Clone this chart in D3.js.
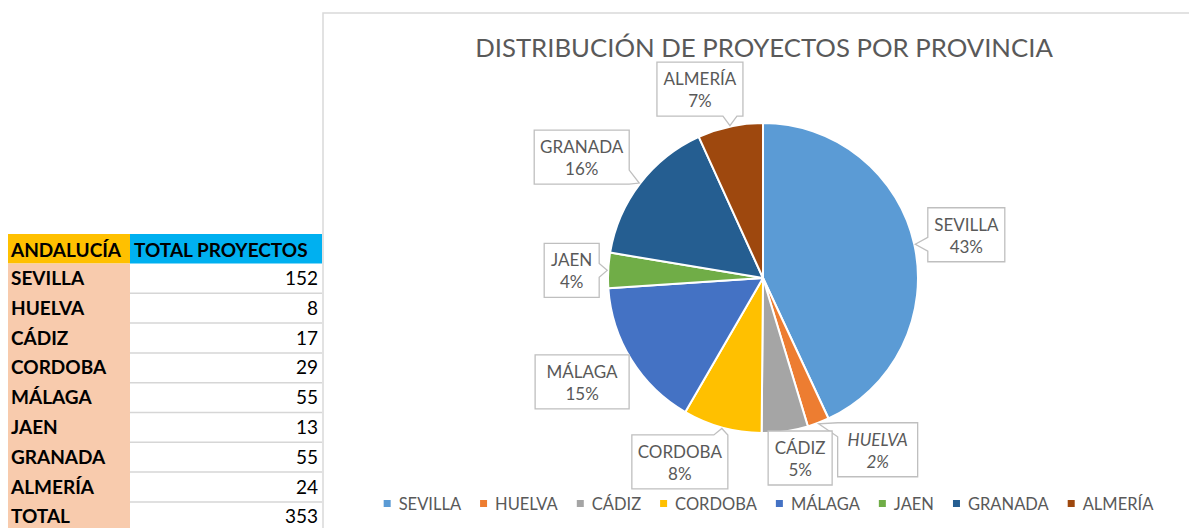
<!DOCTYPE html>
<html><head><meta charset="utf-8">
<script src="https://cdn.jsdelivr.net/npm/d3@7"></script>
<style>body{margin:0;background:#fff;} svg{display:block;}</style>
</head><body>
<svg id="c" width="1189" height="528"></svg>
<script>
// ---- data ----
const provinces = ["SEVILLA","HUELVA","CÁDIZ","CORDOBA","MÁLAGA","JAEN","GRANADA","ALMERÍA"];
const projects = [152, 8, 17, 29, 55, 13, 55, 24];
const pctLabels = ["43%","2%","5%","8%","15%","4%","16%","7%"];
const tableHeaders = ["ANDALUCÍA","TOTAL PROYECTOS"];
const totalLabel = "TOTAL";
const chartTitle = "DISTRIBUCIÓN DE PROYECTOS POR PROVINCIA";
const italicLabels = ["HUELVA"];

// ---- styles / layout ----
const colors = ["#5B9BD5","#ED7D31","#A5A5A5","#FFC000","#4472C4","#70AD47","#255E91","#9E480E"];
// callout box: offset of box centre from slice anchor point, box width
const labelLayout = [[51,-9.5,77],[59,26,80],[15,25.6,64],[-42,33.5,96],[-48.4,21.5,94],[-35.5,0,55],[-57.5,-26,95],[-30,-36.5,86]];
const textGray = "#595959";
const font = "Lato, 'Open Sans', sans-serif";

const svg = d3.select("#c");
const total = d3.sum(projects);

// ---- spreadsheet table ----
const tbl = svg.append("g");
const rowLabels = provinces.concat([totalLabel]);
const rowValues = projects.concat([total]);
const yRow = d3.scaleBand().domain(d3.range(rowLabels.length)).range([263.5, 263.5 + rowLabels.length * 29.8]);
const colA = [8, 130], colB = [130, 322];

tbl.append("rect").attr("x", colA[0]).attr("y", 234).attr("width", colA[1]-colA[0]).attr("height", 29.5).attr("fill", "#FFC000");
tbl.append("rect").attr("x", colB[0]).attr("y", 234).attr("width", colB[1]-colB[0]).attr("height", 29.5).attr("fill", "#00B0F0");
tbl.append("rect").attr("x", colA[0]).attr("y", 263.5).attr("width", colA[1]-colA[0]).attr("height", 280).attr("fill", "#F8CBAD");
// gridlines col B
tbl.selectAll("line.g").data(d3.range(rowLabels.length)).join("line")
  .attr("x1", colB[0]).attr("x2", colB[1])
  .attr("y1", i => yRow(i) + yRow.bandwidth()).attr("y2", i => yRow(i) + yRow.bandwidth())
  .attr("stroke", "#d6d6d6").attr("stroke-width", 1.5);

tbl.append("text").attr("x", 11).attr("y", 257).text(tableHeaders[0])
  .attr("font-family", font).attr("font-weight", 700).attr("font-size", 19).attr("fill", "#000");
tbl.append("text").attr("x", 134).attr("y", 257).text(tableHeaders[1])
  .attr("font-family", font).attr("font-weight", 700).attr("font-size", 19).attr("fill", "#000");
tbl.selectAll("text.rl").data(rowLabels).join("text").attr("class","rl")
  .attr("x", 11).attr("y", (d,i) => yRow(i) + 21.5).text(d => d)
  .attr("font-family", font).attr("font-weight", 700).attr("font-size", 19).attr("fill", "#000");
tbl.selectAll("text.rv").data(rowValues).join("text").attr("class","rv")
  .attr("x", 318).attr("y", (d,i) => yRow(i) + 21.5).attr("text-anchor","end").text(d => d)
  .attr("font-family", font).attr("font-size", 19).attr("fill", "#000");

// ---- chart area ----
const chartX = 323, chartY = 13;
svg.append("path").attr("d", `M${chartX},540V${chartY}H1200`).attr("fill","none").attr("stroke","#d9d9d9").attr("stroke-width",1.5);

const title = svg.append("text").attr("x", 764).attr("y", 57).attr("text-anchor","middle")
  .text(chartTitle).attr("font-family", font).attr("font-size", 25).attr("fill", textGray);
const tw = title.node().getComputedTextLength();
title.attr("font-size", 25 * 578 / tw);

// pie
const cx = 763, cy = 278, R = 155;
const pie = d3.pie().sort(null).value(d => d)(projects);
const arc = d3.arc().innerRadius(0).outerRadius(R);
const gPie = svg.append("g").attr("transform", `translate(${cx},${cy})`);
gPie.selectAll("path").data(pie).join("path")
  .attr("d", arc).attr("fill", (d,i) => colors[i])
  .attr("stroke", "#fff").attr("stroke-width", 2).attr("stroke-linejoin","round");

// callouts
function calloutPath(x0,y0,x1,y1,tx,ty){
  const hw = 7;
  const dxl = x0 - tx, dxr = tx - x1, dyt = y0 - ty, dyb = ty - y1;
  const m = Math.max(dxl,dxr,dyt,dyb);
  let side = null;
  if (m >= 3) side = m===dxl ? 'l' : m===dxr ? 'r' : m===dyt ? 't' : 'b';
  const clamp = (v,a,b) => Math.max(a, Math.min(b, v));
  let p = `M${x0},${y0}`;
  if (side==='t'){ const c = clamp(tx,x0+hw,x1-hw); p += `L${c-hw},${y0}L${tx},${ty}L${c+hw},${y0}`; }
  p += `L${x1},${y0}`;
  if (side==='r'){ const c = clamp(ty,y0+hw,y1-hw); p += `L${x1},${c-hw}L${tx},${ty}L${x1},${c+hw}`; }
  p += `L${x1},${y1}`;
  if (side==='b'){ const c = clamp(tx,x0+hw,x1-hw); p += `L${c+hw},${y1}L${tx},${ty}L${c-hw},${y1}`; }
  p += `L${x0},${y1}`;
  if (side==='l'){ const c = clamp(ty,y0+hw,y1-hw); p += `L${x0},${c+hw}L${tx},${ty}L${x0},${c-hw}`; }
  return p + "Z";
}
const gLab = svg.append("g");
pie.forEach((d, i) => {
  const mid = (d.startAngle + d.endAngle) / 2;
  const tx = cx + (R + 1) * Math.sin(mid), ty = cy - (R + 1) * Math.cos(mid);
  const [dx, dy, w] = labelLayout[i];
  const bx = tx + dx, by = ty + dy, h = 54;
  gLab.append("path").attr("d", calloutPath(bx - w/2, by - h/2, bx + w/2, by + h/2, tx, ty))
    .attr("fill", "#fff").attr("stroke", "#bfbfbf").attr("stroke-width", 1.3);
  const it = italicLabels.includes(provinces[i]) ? "italic" : "normal";
  gLab.append("text").attr("x", bx).attr("y", by - 4).attr("text-anchor","middle").text(provinces[i])
    .attr("font-family", font).attr("font-size", 17).attr("font-style", it).attr("fill", textGray);
  gLab.append("text").attr("x", bx).attr("y", by + 18).attr("text-anchor","middle").text(pctLabels[i])
    .attr("font-family", font).attr("font-size", 17).attr("font-style", it).attr("fill", textGray);
});

// legend
const gLeg = svg.append("g");
const items = gLeg.selectAll("g").data(provinces).join("g");
items.append("rect").attr("width", 7).attr("height", 7).attr("y", 500).attr("fill", (d,i) => colors[i]);
items.append("text").attr("x", 15).attr("y", 510).text(d => d)
  .attr("font-family", font).attr("font-size", 16.5).attr("fill", textGray);
let widths = [];
items.each(function(){ widths.push(d3.select(this).select("text").node().getComputedTextLength()); });
const gap = 19;
const totalW = d3.sum(widths, w => 15 + w) + gap * (widths.length - 1);
let x = 768.5 - totalW / 2;
items.attr("transform", (d,i) => { const t = `translate(${x},0)`; x += 15 + widths[i] + gap; return t; });
</script>
</body></html>
